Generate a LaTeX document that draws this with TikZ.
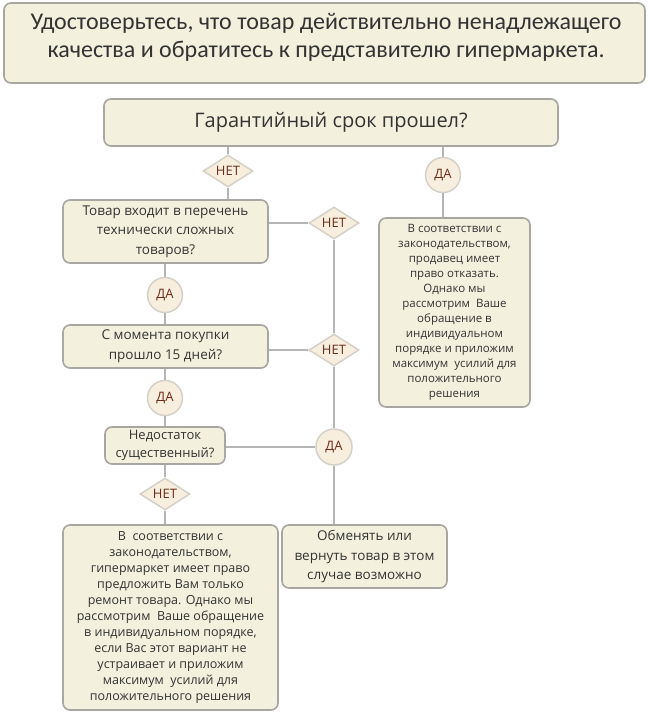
\documentclass[tikz,border=0pt]{standalone}
\usepackage{fontspec}
\setmainfont{Open Sans}
\newfontfamily\titlefont{Carlito}
\usetikzlibrary{shapes.geometric}
\definecolor{boxfill}{HTML}{F4F0DE}
\definecolor{boxline}{HTML}{A7A6A0}
\definecolor{tagfill}{HTML}{F7EEDD}
\definecolor{tagline}{HTML}{D5D0C8}
\definecolor{tagtext}{HTML}{6E2A18}
\definecolor{txt}{HTML}{333333}
\definecolor{connc}{HTML}{B5B5B5}
\begin{document}
\begin{tikzpicture}[x=1pt,y=-1pt,
 box/.style={draw=boxline, fill=boxfill, line width=1.6pt, rounded corners=7pt, align=center, text=txt, inner sep=2pt},
 diam/.style={diamond, draw=tagline, fill=tagfill, line width=1.5pt, minimum width=50pt, minimum height=32pt, inner sep=0pt, aspect=1.5, text=tagtext, font=\fontsize{13}{15}\selectfont},
 circ/.style={circle, draw=tagline, fill=tagfill, line width=1.5pt, minimum size=35pt, inner sep=0pt, text=tagtext, font=\fontsize{13}{15}\selectfont},
 link/.style={draw=connc, line width=2pt}]
\useasboundingbox (0,0) rectangle (649,716);

% title
\node[box, minimum width=641pt, minimum height=80pt] (title) at (324.5,43) {};
\node[text=txt, align=center, font=\titlefont\fontsize{24}{28}\selectfont] (titletxt) at (326,37)
 {Удостоверьтесь, что товар действительно ненадлежащего\\качества и обратитесь к представителю гипермаркета.};

% main question
\node[box, minimum width=454pt, minimum height=47pt, font=\fontsize{20}{24}\selectfont] (main) at (331,122.5) {Гарантийный срок прошел?};

% tags
\node[diam] (n1) at (228,171) {НЕТ};
\node[circ] (d1) at (443,175) {ДА};
\node[diam] (n2) at (334,223) {НЕТ};
\node[circ] (d2) at (165,295) {ДА};
\node[diam] (n3) at (334,350) {НЕТ};
\node[circ] (d3) at (165,398) {ДА};
\node[circ, minimum size=36pt] (d4) at (334,447) {ДА};
\node[diam] (n4) at (165,494) {НЕТ};

% boxes
\node[box, minimum width=205pt, minimum height=63pt, font=\fontsize{13.5}{19.5}\selectfont] (b1) at (165.5,231.5)
 {Товар входит в перечень\\технически сложных\\товаров?};
\node[box, minimum width=205pt, minimum height=43pt, font=\fontsize{13.5}{20}\selectfont] (b2) at (165.5,346.5)
 {С момента покупки\\прошло 15 дней?};
\node[box, minimum width=120pt, minimum height=37pt, font=\fontsize{13}{18}\selectfont] (b3) at (165,445.5)
 {Недостаток\\существенный?};
\node[box, minimum width=215pt, minimum height=185pt, font=\fontsize{12.5}{16}\selectfont] (b4) at (170.5,617.5)
 {В\ \ соответствии с\\законодательством,\\гипермаркет имеет право\\предложить Вам только\\ремонт товара. Однако мы\\рассмотрим\ \ Ваше обращение\\в индивидуальном порядке,\\если Вас этот вариант не\\устраивает и приложим\\максимум\ \ усилий для\\положительного решения};
\node[box, minimum width=165pt, minimum height=63pt, font=\fontsize{13.5}{19.5}\selectfont] (b5) at (364.5,556.5)
 {Обменять или\\вернуть товар в этом\\случае возможно};
\node[box, minimum width=151pt, minimum height=189pt, font=\fontsize{11.5}{15}\selectfont] (b6) at (454.5,312.5)
 {В соответствии с\\законодательством,\\продавец имеет\\право отказать.\\Однако мы\\рассмотрим\ \ Ваше\\обращение в\\индивидуальном\\порядке и приложим\\максимум\ \ усилий для\\положительного\\решения};

% connectors
\draw[link] (n1 |- main.south) -- (n1);
\draw[link] (n1) -- (n1 |- b1.north);
\draw[link] (d1 |- main.south) -- (d1);
\draw[link] (d1) -- (d1 |- b6.north);
\draw[link] (n2 -| b1.east) -- (n2);
\draw[link] (n3 -| b2.east) -- (n3);
\draw[link] (d4 -| b3.east) -- (d4);
\draw[link] (n2) -- (n3);
\draw[link] (n3) -- (d4);
\draw[link] (d4) -- (d4 |- b5.north);
\draw[link] (d2 |- b1.south) -- (d2);
\draw[link] (d2) -- (d2 |- b2.north);
\draw[link] (d3 |- b2.south) -- (d3);
\draw[link] (d3) -- (d3 |- b3.north);
\draw[link] (n4 |- b3.south) -- (n4);
\draw[link] (n4) -- (n4 |- b4.north);
\end{tikzpicture}
\end{document}
